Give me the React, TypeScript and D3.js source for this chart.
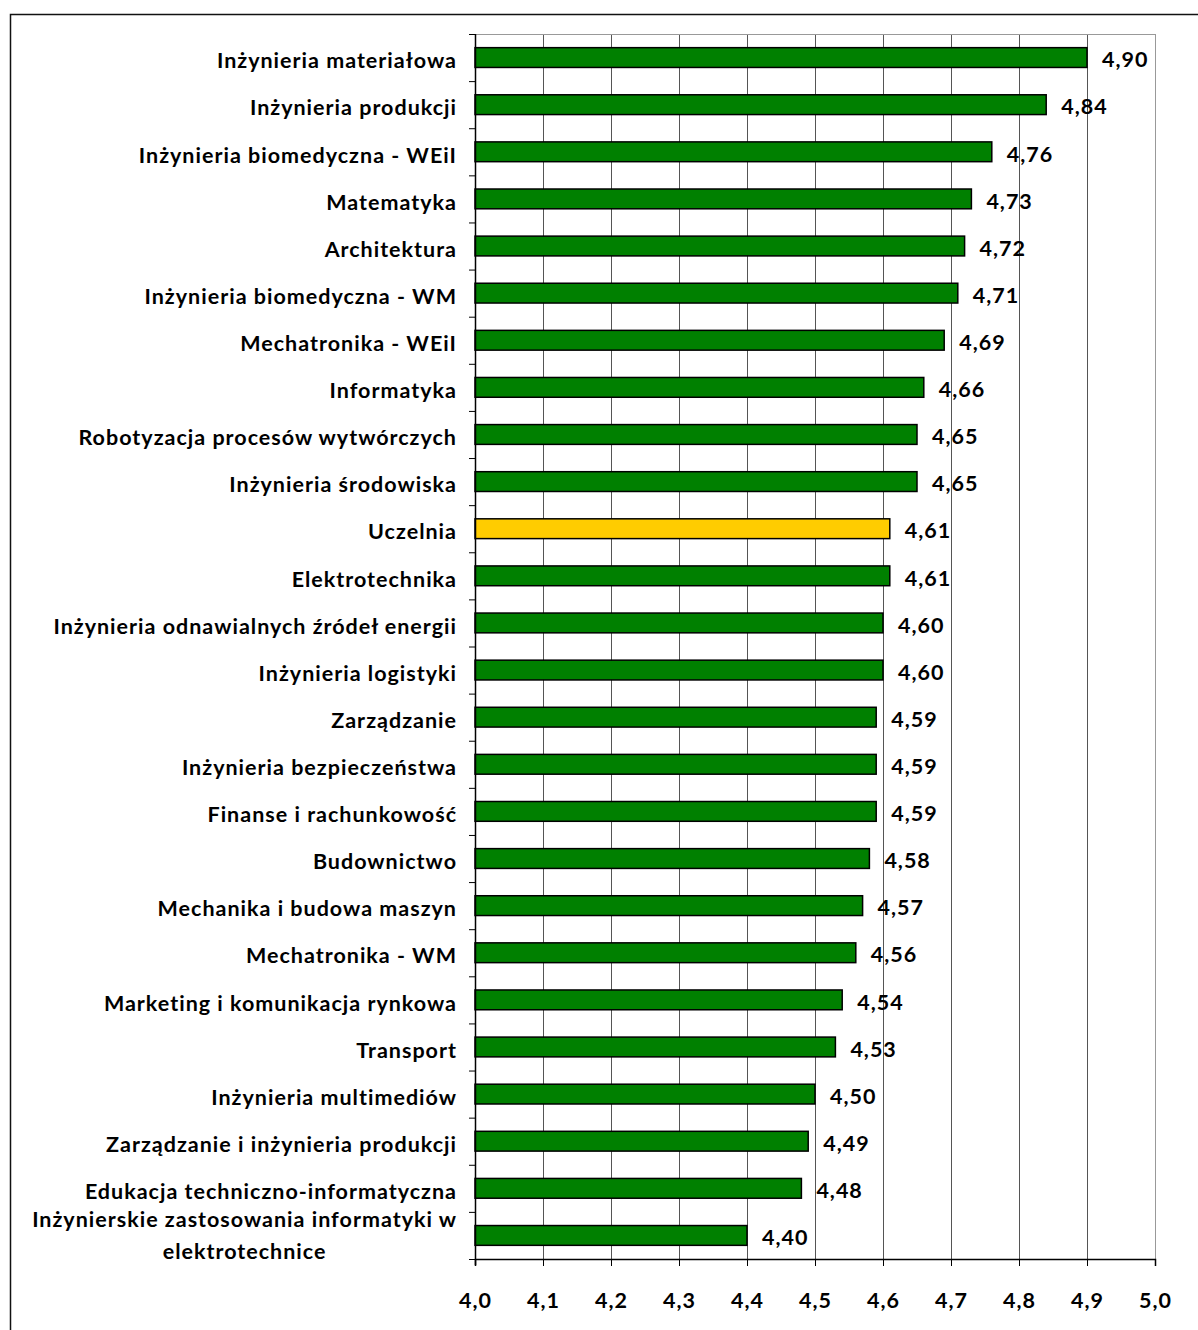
import React, { useEffect, useRef } from "react";
import * as d3 from "d3";

// kierunki i średnie oceny (od góry)
const categories = [
  "Inżynieria materiałowa",
  "Inżynieria produkcji",
  "Inżynieria biomedyczna - WEiI",
  "Matematyka",
  "Architektura",
  "Inżynieria biomedyczna - WM",
  "Mechatronika - WEiI",
  "Informatyka",
  "Robotyzacja procesów wytwórczych",
  "Inżynieria środowiska",
  "Uczelnia",
  "Elektrotechnika",
  "Inżynieria odnawialnych źródeł energii",
  "Inżynieria logistyki",
  "Zarządzanie",
  "Inżynieria bezpieczeństwa",
  "Finanse i rachunkowość",
  "Budownictwo",
  "Mechanika i budowa maszyn",
  "Mechatronika - WM",
  "Marketing i komunikacja rynkowa",
  "Transport",
  "Inżynieria multimediów",
  "Zarządzanie i inżynieria produkcji",
  "Edukacja techniczno-informatyczna",
  "Inżynierskie zastosowania informatyki w elektrotechnice",
];
const values = [
  4.9, 4.84, 4.76, 4.73, 4.72, 4.71, 4.69, 4.66, 4.65, 4.65, 4.61, 4.61, 4.6,
  4.6, 4.59, 4.59, 4.59, 4.58, 4.57, 4.56, 4.54, 4.53, 4.5, 4.49, 4.48, 4.4,
];
const highlight = "Uczelnia";
const xTicks = [4.0, 4.1, 4.2, 4.3, 4.4, 4.5, 4.6, 4.7, 4.8, 4.9, 5.0];

const width = 1198;
const height = 1330;
const margin = { top: 34, right: 43, bottom: 71, left: 475 };
const font = "Lato, 'Open Sans', sans-serif";
const fontSize = 21.5;
const spacing = 1;

export default function App() {
  const ref = useRef<SVGSVGElement>(null);

  useEffect(() => {
    document.body.style.margin = "0";
    const svg = d3.select(ref.current);
    svg.selectAll("*").remove();

    const data = categories.map((c, i) => ({ name: c, value: values[i] }));
    const fmt = (v: number, d: number) => v.toFixed(d).replace(".", ",");

    const x = d3
      .scaleLinear()
      .domain([4, 5])
      .range([margin.left, width - margin.right]);
    const y = d3
      .scaleBand()
      .domain(categories)
      .range([margin.top, height - margin.bottom])
      .paddingInner(0.58)
      .paddingOuter(0.29);
    const step = y.step();

    // ramka
    svg
      .append("path")
      .attr("d", `M10.5,${height} V14.5 H${width}`)
      .attr("fill", "none")
      .attr("stroke", "#111")
      .attr("stroke-width", 1.5);

    // siatka
    svg
      .append("g")
      .selectAll("line")
      .data(xTicks.slice(1))
      .join("line")
      .attr("x1", (d) => Math.round(x(d)) + 0.5)
      .attr("x2", (d) => Math.round(x(d)) + 0.5)
      .attr("y1", margin.top)
      .attr("y2", height - margin.bottom)
      .attr("stroke", (d) => (d === 5 ? "#999" : "#555"))
      .attr("stroke-width", 1);
    svg
      .append("line")
      .attr("x1", margin.left)
      .attr("x2", x(5))
      .attr("y1", margin.top + 0.5)
      .attr("y2", margin.top + 0.5)
      .attr("stroke", "#999");

    // słupki
    svg
      .append("g")
      .selectAll("rect")
      .data(data)
      .join("rect")
      .attr("x", x(4))
      .attr("y", (d) => y(d.name)!)
      .attr("width", (d) => x(d.value) - x(4))
      .attr("height", y.bandwidth())
      .attr("fill", (d) => (d.name === highlight ? "#FFCC00" : "#008000"))
      .attr("stroke", "#000")
      .attr("stroke-width", 1.5);

    // etykiety wartości
    svg
      .append("g")
      .selectAll("text")
      .data(data)
      .join("text")
      .attr("x", (d) => x(d.value) + 15)
      .attr("y", (d) => y(d.name)! + y.bandwidth() / 2 + 2)
      .attr("dy", "0.36em")
      .attr("font-family", font)
      .attr("font-weight", "bold")
      .attr("font-size", fontSize)
      .attr("letter-spacing", spacing)
      .attr("fill", "#000")
      .text((d) => fmt(d.value, 2));

    // oś Y
    const yAxis = svg.append("g");
    yAxis
      .append("line")
      .attr("x1", margin.left + 0.5)
      .attr("x2", margin.left + 0.5)
      .attr("y1", margin.top)
      .attr("y2", height - margin.bottom + 6)
      .attr("stroke", "#000")
      .attr("stroke-width", 1.5);
    yAxis
      .selectAll("line.tick")
      .data(d3.range(categories.length + 1))
      .join("line")
      .attr("class", "tick")
      .attr("x1", margin.left - 6)
      .attr("x2", margin.left)
      .attr("y1", (i) => margin.top + i * step + 0.5)
      .attr("y2", (i) => margin.top + i * step + 0.5)
      .attr("stroke", "#000");

    const labels = yAxis
      .selectAll("text")
      .data(data)
      .join("text")
      .attr("font-family", font)
      .attr("font-weight", "bold")
      .attr("font-size", fontSize)
      .attr("letter-spacing", spacing)
      .attr("fill", "#000");
    labels.each(function (d) {
      const t = d3.select(this);
      const cy = y(d.name)! + y.bandwidth() / 2;
      if (d.name.length > 45) {
        const cut = d.name.lastIndexOf(" ", d.name.length - 10);
        const l1 = d.name.slice(0, cut);
        const l2 = d.name.slice(cut + 1);
        t.append("tspan")
          .attr("x", margin.left - 18)
          .attr("y", cy - 16)
          .attr("dy", "0.36em")
          .attr("text-anchor", "end")
          .text(l1);
        const w1 = (t.select("tspan").node() as SVGTextContentElement).getComputedTextLength();
        t.append("tspan")
          .attr("x", margin.left - 18 - w1 / 2)
          .attr("y", cy + 16)
          .attr("dy", "0.36em")
          .attr("text-anchor", "middle")
          .text(l2);
      } else {
        t.attr("x", margin.left - 18)
          .attr("y", cy + 3)
          .attr("dy", "0.36em")
          .attr("text-anchor", "end")
          .text(d.name);
      }
    });

    // oś X
    const xAxis = svg
      .append("g")
      .attr("transform", `translate(0,${height - margin.bottom})`)
      .call(
        d3
          .axisBottom(x)
          .tickValues(xTicks)
          .tickSize(7)
          .tickPadding(27)
          .tickFormat((d) => fmt(d as number, 1))
      );
    xAxis.select(".domain").attr("stroke", "#000").attr("stroke-width", 1.5);
    xAxis.selectAll(".tick line").attr("stroke", "#000");
    xAxis
      .selectAll(".tick text")
      .attr("font-family", font)
      .attr("font-weight", "bold")
      .attr("font-size", fontSize)
      .attr("letter-spacing", spacing)
      .attr("fill", "#000");
  }, []);

  return <svg ref={ref} width={width} height={height} style={{ display: "block" }} />;
}
